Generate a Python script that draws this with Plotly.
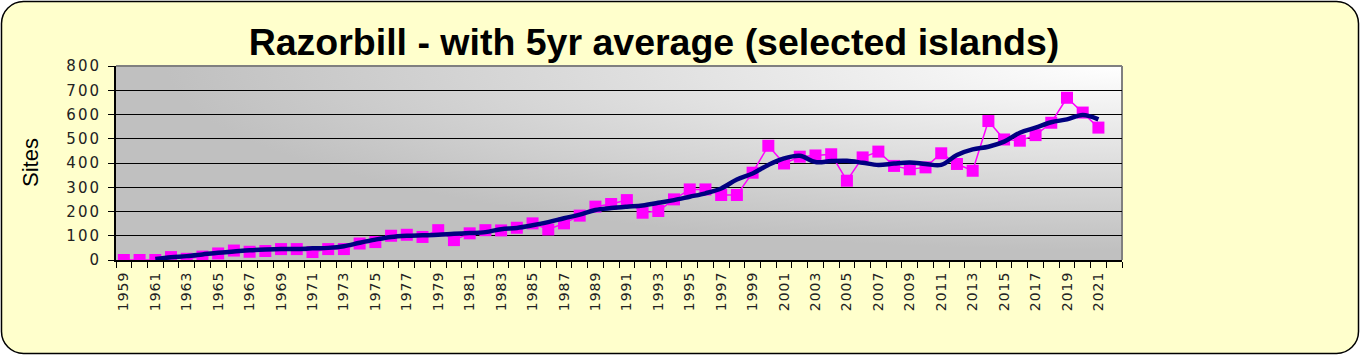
import base64
import plotly.graph_objects as go

years = list(range(1959, 2022))
sites = [0, 0, 0, 12, 5, 14, 27, 39, 34, 37, 45, 45, 33, 45, 45, 68, 74, 100, 104, 95,
         123, 82, 110, 123, 122, 133, 151, 126, 151, 183, 220, 231, 247, 195, 202, 250,
         291, 291, 268, 268, 360, 471, 398, 426, 431, 436, 327, 423, 447, 388, 374, 382,
         440, 396, 368, 573, 497, 492, 515, 566, 669, 608, 546]
avg5 = [None, None, 4, 11, 16, 23, 30, 35, 40, 43, 45, 45, 48, 50, 57, 71, 84, 95, 100, 102,
        104, 108, 111, 115, 127, 132, 143, 156, 172, 187, 206, 214, 220, 225, 236, 247,
        261, 275, 295, 332, 357, 392, 419, 430, 404, 408, 409, 401, 392, 398, 402, 396,
        392, 433, 456, 467, 488, 525, 546, 568, 580, 598, 580]
tick_years = list(range(1959, 2022, 2))

# geometry (pixels)
W, H = 1360, 355
L, R, T, B = 116, 1122, 66, 260
pw, ph = R - L, B - T

svg = f'''<svg xmlns="http://www.w3.org/2000/svg" width="{W}" height="{H}" viewBox="0 0 {W} {H}">
<defs><radialGradient id="g" cx="1" cy="0" r="1" gradientUnits="objectBoundingBox">
<stop offset="0" stop-color="#ffffff"/><stop offset="0.95" stop-color="#c0c0c0"/><stop offset="1" stop-color="#c0c0c0"/>
</radialGradient></defs>
<rect x="1.5" y="1.5" width="{W-3}" height="{H-3}" rx="22" ry="22" fill="#FFFFCC" stroke="#000000" stroke-width="1.5"/>
<rect x="{L}" y="{T}" width="{pw}" height="{ph}" fill="url(#g)"/>
<line x1="{L}" y1="{T}" x2="{R}" y2="{T}" stroke="#808080" stroke-width="2"/>
<line x1="{R}" y1="{T}" x2="{R}" y2="{B}" stroke="#808080" stroke-width="2"/>
</svg>'''
src = "data:image/svg+xml;base64," + base64.b64encode(svg.encode()).decode()

fig = go.Figure()
fig.add_trace(go.Scatter(
    x=years, y=sites, mode="lines+markers",
    line=dict(color="#FF00FF", width=1.5),
    marker=dict(symbol="square", size=12, color="#FF00FF"),
    hoverinfo="x+y", showlegend=False))
fig.add_trace(go.Scatter(
    x=years, y=avg5, mode="lines",
    line=dict(color="#000080", width=4.5, shape="spline", smoothing=1),
    connectgaps=False, showlegend=False))

fig.update_layout(
    width=W, height=H,
    margin=dict(l=L, r=W - R, t=T, b=H - B, pad=0),
    paper_bgcolor="#ffffff",
    plot_bgcolor="rgba(0,0,0,0)",
    images=[dict(source=src, xref="paper", yref="paper",
                 x=-L / pw, y=B / ph, sizex=W / pw, sizey=H / ph,
                 xanchor="left", yanchor="top", sizing="stretch", layer="below")],
    title=dict(text="<b>Razorbill - with 5yr average (selected islands)</b>",
               x=654 / W, xanchor="center", xref="container",
               y=1 - 42 / H, yanchor="middle", yref="container",
               font=dict(family="Liberation Sans, Arial", size=37.5, color="#000000")),
    annotations=[dict(text="Sites", xref="paper", yref="paper",
                      x=(30 - L) / pw, y=(B - 163) / ph, textangle=-90, showarrow=False,
                      xanchor="center", yanchor="middle",
                      font=dict(family="Liberation Sans, Arial", size=22, color="#000000"))],
    xaxis=dict(range=[1958.5, 2022.5], tickmode="array", tickvals=tick_years,
               ticktext=[str(y) for y in tick_years], tickangle=-90,
               ticks="", showgrid=False, zeroline=False,
               showline=True, linecolor="#000000", linewidth=2,
               ticklabelstandoff=4,
               tickfont=dict(family="DejaVu Sans", size=14, color="#222222"),
               minor=dict(tickvals=[1958.5 + i for i in range(65)], ticks="outside",
                          ticklen=6, tickcolor="#000000", tickwidth=1, showgrid=False)),
    yaxis=dict(range=[0, 800], dtick=100, ticks="outside", ticklen=6,
               tickcolor="#000000", tickwidth=1,
               showgrid=True, gridcolor="#000000", gridwidth=1,
               zeroline=False, showline=True, linecolor="#000000", linewidth=2,
               ticklabelstandoff=4,
               tickfont=dict(family="DejaVu Sans", size=15, color="#222222")),
)

post = """
document.body.style.margin='0';
document.body.style.padding='0';
document.querySelectorAll('.xtick text').forEach(function(t){t.style.letterSpacing='1px';});
document.querySelectorAll('.ytick text').forEach(function(t){t.style.letterSpacing='2px';});
"""
fig.write_html("out.html", post_script=post, config={"displayModeBar": False})
